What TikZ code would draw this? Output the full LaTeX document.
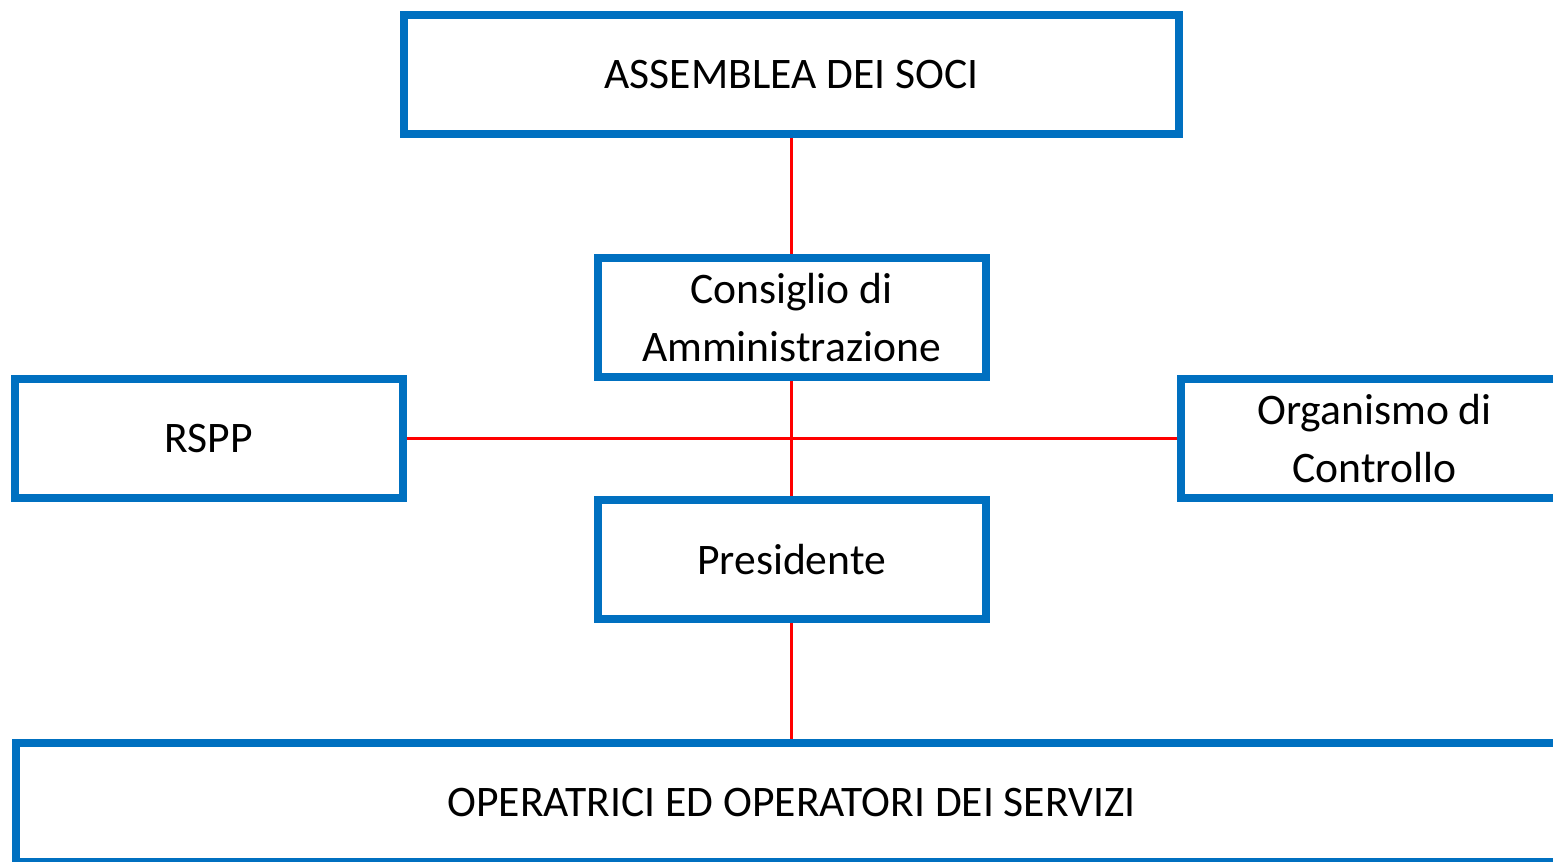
\documentclass[tikz,border=0pt]{standalone}
\usepackage{fontspec}
\setmainfont{Carlito}
\usepackage{xcolor}
\usetikzlibrary{positioning,calc}

\definecolor{orgblue}{HTML}{0070C0}
\definecolor{orgred}{HTML}{FF0000}

\tikzset{
  box/.style={draw=orgblue, line width=0.2cm, fill=white, inner sep=0pt,
    minimum width=9.7cm, minimum height=2.975cm, align=center,
    font=\fontsize{31}{41.5}\selectfont},
  link/.style={draw=orgred, line width=0.075cm}
}

\begin{document}
\begin{tikzpicture}
  \useasboundingbox (0,0) rectangle (38.825,-21.525);
  \clip (0,0) rectangle (38.825,-21.525);

  \node[box, minimum width=19.375cm] (asm) at (19.7875,-1.8625) {ASSEMBLEA DEI SOCI} ; %
  \node[box, below=2.9cm of asm] (cda) {Consiglio di\\Amministrazione} ; %
  \node[box, below=2.875cm of cda] (pres) {Presidente} ; %
  \node[box, minimum width=38.8cm, below=2.9cm of pres] (ops) {OPERATRICI ED OPERATORI DEI SERVIZI} ; %

  \coordinate (midw) at ($(cda.west)!0.5!(pres.west)$) ; %
  \coordinate (mide) at ($(cda.east)!0.5!(pres.east)$) ; %
  \node[box, left=4.675cm of midw] (rspp) {RSPP} ; %
  \node[box, right=4.675cm of mide] (odc) {Organismo di\\Controllo} ; %

  \draw[link] (asm) -- (cda) ;
  \draw[link] (cda) -- (pres) ;
  \draw[link] (pres) -- (ops) ;
  \draw[link] (rspp) -- (odc) ;
\end{tikzpicture}
\end{document}
